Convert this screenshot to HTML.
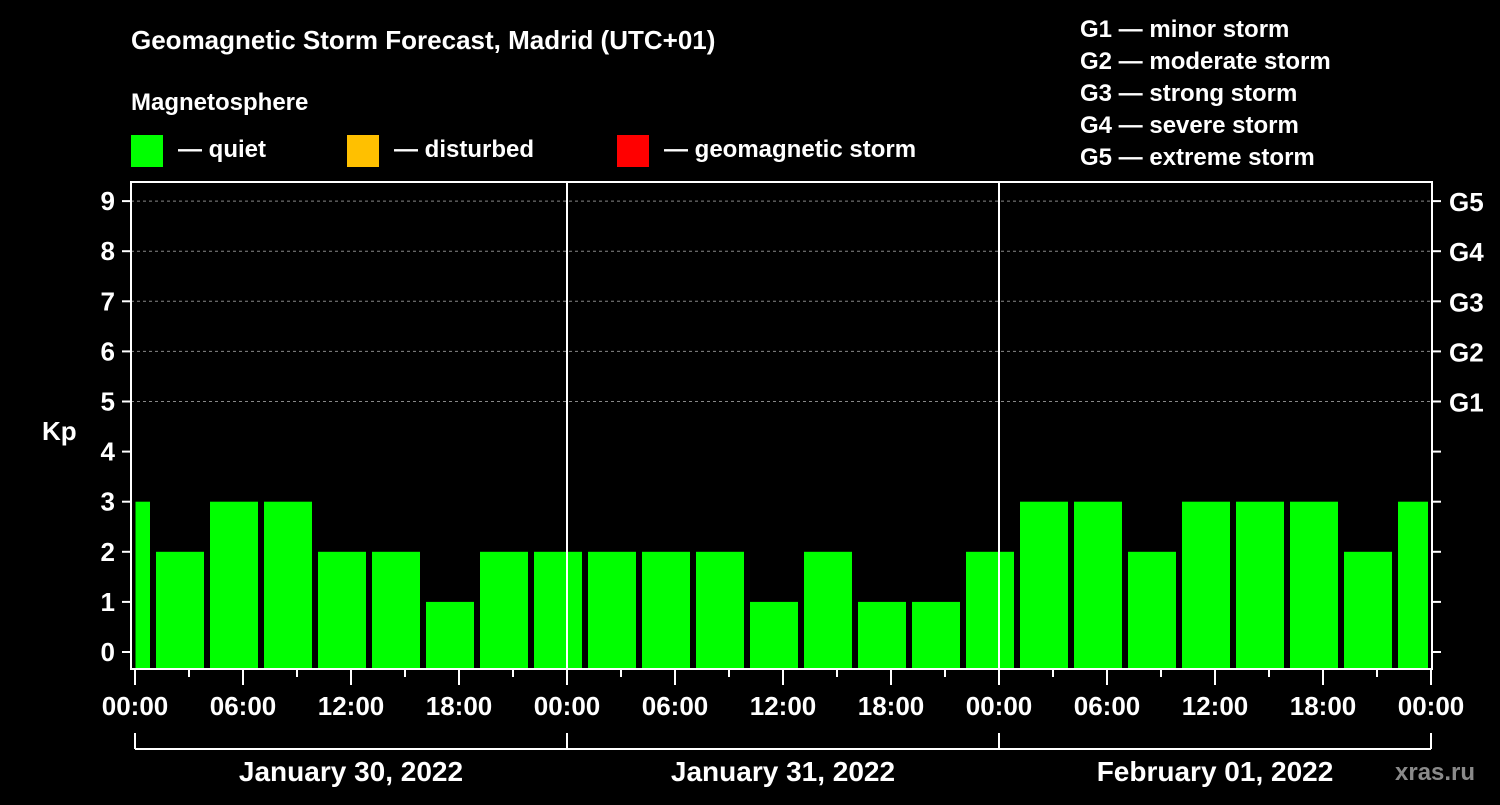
<!DOCTYPE html>
<html><head><meta charset="utf-8"><style>
html,body{margin:0;padding:0;background:#000;}
svg text{font-family:"Liberation Sans",sans-serif;font-weight:bold;fill:#fff;}
</style></head><body>
<svg id="c" width="1500" height="800" xmlns="http://www.w3.org/2000/svg">
<rect width="1500" height="800" fill="#000"/>
<text x="131" y="49" font-size="26">Geomagnetic Storm Forecast, Madrid (UTC+01)</text>
<text x="131" y="110" font-size="24">Magnetosphere</text>
<g><rect x="131" y="135" width="32" height="32" fill="#00ff00"/><text x="178" y="157" font-size="24">— quiet</text></g>
<g><rect x="347" y="135" width="32" height="32" fill="#ffc000"/><text x="394" y="157" font-size="24">— disturbed</text></g>
<g><rect x="617" y="135" width="32" height="32" fill="#ff0000"/><text x="664" y="157" font-size="24">— geomagnetic storm</text></g>
<g font-size="24">
<text x="1080" y="37">G1 — minor storm</text>
<text x="1080" y="69">G2 — moderate storm</text>
<text x="1080" y="101">G3 — strong storm</text>
<text x="1080" y="133">G4 — severe storm</text>
<text x="1080" y="165">G5 — extreme storm</text>
</g>
<text x="42" y="440" font-size="26">Kp</text>
<text x="1395" y="780" font-size="24" fill="#888" style="fill:#8a8a8a">xras.ru</text>
<g id="plot"></g>
</svg>
<script>
const kpValues=[3,2,3,3,2,2,1,2,2,2,2,2,1,2,1,1,2,3,3,2,3,3,3,2,3];
const yTicks=[0,1,2,3,4,5,6,7,8,9];
const gLabels=["G1","G2","G3","G4","G5"];
const gLevels=[5,6,7,8,9];
const xTickLabels=["00:00","06:00","12:00","18:00","00:00","06:00","12:00","18:00","00:00","06:00","12:00","18:00","00:00"];
const dayLabels=["January 30, 2022","January 31, 2022","February 01, 2022"];
const NS="http://www.w3.org/2000/svg";
const g=document.getElementById('plot');
const L=131,R=1432,T=182,B=669;
const X=h=>135+h*18;
const Y=v=>652-v*50.1;
function mk(tag,a){const e=document.createElementNS(NS,tag);for(const k in a)e.setAttribute(k,a[k]);g.appendChild(e);return e;}
// grid
gLevels.forEach(v=>{const l=mk('line',{x1:L,x2:R,y1:Y(v),y2:Y(v),stroke:'#888','stroke-dasharray':'3,3','stroke-width':1});

});
// bars
kpValues.forEach((v,k)=>{const h0=-2+3*k,h1=h0+3;
const x0=Math.max(X(0)+0.5,X(h0)+3),x1=Math.min(X(h1)-3,X(72)-3);
const c=v>=5?'#ff0000':(v>=4?'#ffc000':'#00ff00');
const r=mk('rect',{x:x0,y:Y(v),width:x1-x0,height:B-Y(v),fill:c});

});
// day separators
[1,2].forEach(d=>{const l=mk('line',{x1:X(24*d),x2:X(24*d),y1:T,y2:B,stroke:'#fff','stroke-width':2});

});
// frame
const f=mk('rect',{x:L,y:T,width:R-L,height:B-T,fill:'none',stroke:'#fff','stroke-width':2});


// y ticks
yTicks.forEach(v=>{mk('line',{x1:122,x2:L,y1:Y(v),y2:Y(v),stroke:'#fff','stroke-width':2});
mk('line',{x1:R,x2:1441,y1:Y(v),y2:Y(v),stroke:'#fff','stroke-width':2});
const t=mk('text',{x:115,y:Y(v)+9,'font-size':26,'text-anchor':'end'});t.textContent=v;

});
gLabels.forEach((s,i)=>{const t=mk('text',{x:1449,y:Y(gLevels[i])+10,'font-size':26});t.textContent=s;

});
// x ticks
for(let h=0;h<=72;h+=3){const major=h%6===0;mk('line',{x1:X(h),x2:X(h),y1:B,y2:B+(major?16:8),stroke:'#fff','stroke-width':2});}
xTickLabels.forEach((s,i)=>{const t=mk('text',{x:X(i*6),y:715,'font-size':26,'text-anchor':'middle'});t.textContent=s;

});
// day bracket
mk('line',{x1:X(0),x2:X(72),y1:749,y2:749,stroke:'#fff','stroke-width':2});
for(let d=0;d<=3;d++)mk('line',{x1:X(24*d),x2:X(24*d),y1:733,y2:749,stroke:'#fff','stroke-width':2});
dayLabels.forEach((s,i)=>{const t=mk('text',{x:X(24*i+12),y:781,'font-size':28,'text-anchor':'middle'});t.textContent=s;

});
</script>
</body></html>
